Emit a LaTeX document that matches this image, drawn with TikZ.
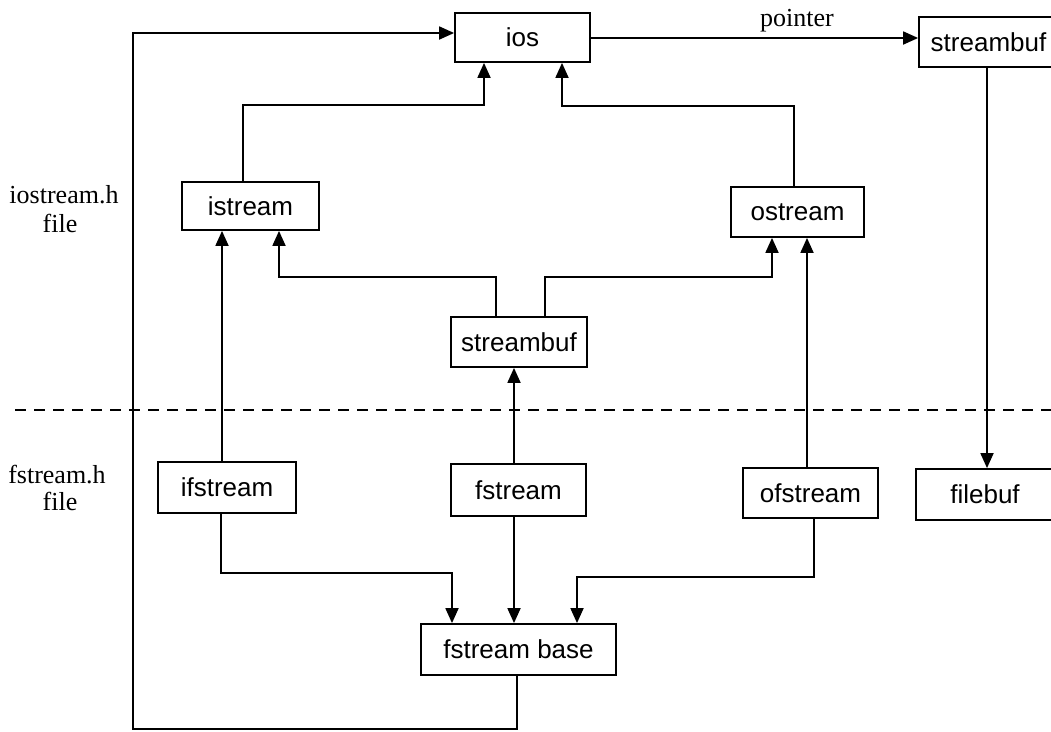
\documentclass[tikz,border=0pt]{standalone}
\usepackage{fontspec}
\setmainfont{Liberation Serif}
\setsansfont{Liberation Sans}
\usetikzlibrary{arrows.meta}

\begin{document}
\begin{tikzpicture}[x=1pt,y=-1pt,
  line width=1.8pt,
  cls/.style={draw, line width=1.8pt, inner sep=0pt, font=\sffamily\fontsize{26}{29}\selectfont},
  note/.style={inner sep=0pt, font=\rmfamily\fontsize{26}{29}\selectfont},
  arr/.style={-{Triangle[length=15pt,width=13pt]}},
  sep/.style={dashed, dash pattern=on 11pt off 8pt, line width=1.8pt}]

\useasboundingbox (0,0) rectangle (1051,731);
\clip (0,0) rectangle (1051,731);

% class boxes
\node[cls, minimum width=135pt, minimum height=49pt] (ios)      at (522.5,37.5) {ios};
\node[cls, minimum width=139pt, minimum height=50pt] (sbtop)    at (988.5,42)   {streambuf};
\node[cls, minimum width=137pt, minimum height=48pt] (istream)  at (250.5,206)  {istream};
\node[cls, minimum width=133pt, minimum height=50pt] (ostream)  at (797.5,212)  {ostream};
\node[cls, minimum width=136pt, minimum height=50pt] (sbmid)    at (519,342)    {streambuf};
\node[cls, minimum width=138pt, minimum height=51pt] (ifstream) at (227,487.5)  {ifstream};
\node[cls, minimum width=135pt, minimum height=52pt] (fstream)  at (518.5,490)  {fstream};
\node[cls, minimum width=135pt, minimum height=50pt] (ofstream) at (810.5,493)  {ofstream};
\node[cls, minimum width=138pt, minimum height=51pt] (filebuf)  at (985,494.5)  {filebuf};
\node[cls, minimum width=195pt, minimum height=51pt] (fbase)    at (518.5,649.5){fstream base};

% header file labels
\node[note, anchor=base] (ioh)  at (64,203) {iostream.h};
\node[note, anchor=base] (iof)  at (60,232) {file};
\node[note, anchor=base] (fsh)  at (57,483) {fstream.h};
\node[note, anchor=base] (fsf)  at (60,510) {file};

% boundary between the two header files
\coordinate (sepL) at (15,410);
\coordinate (sepR) at (1051,410);
\draw[sep] (sepL) -- (sepR);

% pointer from ios to its stream buffer
\draw[arr] ([yshift=-0.5pt]ios.east) -- ([yshift=-0.5pt]ios.east -| sbtop.west);
\node[note, anchor=base] (ptr) at (797,26) {pointer};

% inheritance into ios
\draw[arr] ([xshift=-7.5pt]istream.north) -- ++(0,-76) -| ([xshift=-38.5pt]ios.south);
\draw[arr] ([xshift=-3.5pt]ostream.north) -- ++(0,-80) -| ([xshift=39.5pt]ios.south);

% streambuf into istream / ostream
\draw[arr] ([xshift=-23pt]sbmid.north) -- ++(0,-39) -| ([xshift=28.5pt]istream.south);
\draw[arr] ([xshift=26pt]sbmid.north) -- ++(0,-39) -| ([xshift=-25.5pt]ostream.south);

% fstream.h classes upward
\draw[arr] ([xshift=-5pt]ifstream.north) -- ([xshift=-28.5pt]istream.south);
\draw[arr] ([xshift=-4.5pt]fstream.north) -- ([xshift=-5pt]sbmid.south);
\draw[arr] ([xshift=-3.5pt]ofstream.north) -- ([xshift=9.5pt]ostream.south);
\draw[arr] ([xshift=-1.5pt]sbtop.south) -- ([xshift=2pt]filebuf.north);

% into fstream base
\draw[arr] ([xshift=-6pt]ifstream.south) -- ++(0,59) -| ([xshift=-66.5pt]fbase.north);
\draw[arr] ([xshift=-4.5pt]fstream.south) -- ([xshift=-4.5pt]fbase.north);
\draw[arr] ([xshift=3.5pt]ofstream.south) -- ++(0,58) -| ([xshift=58.5pt]fbase.north);

% fstream base back up to ios
\draw[arr] ([xshift=-1.5pt]fbase.south) -- ++(0,53) -- ++(-384,0) |- ([yshift=4.5pt]ios.west);

\end{tikzpicture}
\end{document}
